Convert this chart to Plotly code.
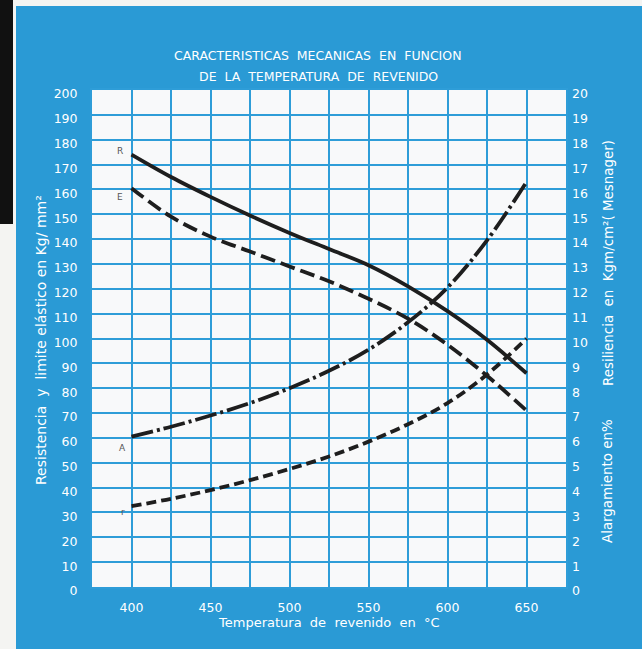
import plotly.graph_objects as go

# ---- data ----
temperatura = [400, 425, 450, 475, 500, 525, 550, 575, 600, 625, 650]
resistencia_R = [174, 165, 157, 149.5, 142.5, 136, 129.5, 121, 111, 99.5, 86]
limite_elastico_E = [160.5, 149, 141, 135, 129, 123, 116, 108, 97.5, 85, 71]
alargamiento_A = [6.05, 6.45, 6.9, 7.4, 8.0, 8.7, 9.55, 10.65, 12.05, 13.95, 16.3]
resiliencia = [3.25, 3.55, 3.9, 4.3, 4.75, 5.25, 5.85, 6.55, 7.4, 8.55, 10.0]

x_ticks = [400, 450, 500, 550, 600, 650]
y_left_ticks = list(range(0, 201, 10))
y_right_ticks = list(range(0, 21, 1))

titulo_1 = "CARACTERISTICAS  MECANICAS  EN  FUNCION"
titulo_2 = "DE  LA  TEMPERATURA  DE  REVENIDO"
eje_x = "Temperatura  de  revenido  en  °C"
eje_izq = "Resistencia  y  limite elástico en Kg/ mm²"
eje_der_1 = "Alargamiento en%"
eje_der_2 = "Resiliencia  en  Kgm/cm²( Mesnager)"

BLUE = "#2a9ad5"
GRID = "#2e9dd8"
INK = "#1e1e1e"
FONT = "DejaVu Sans, Open Sans, sans-serif"

fig = go.Figure()
fig.add_trace(go.Scatter(x=temperatura, y=resistencia_R, mode="lines",
                         line=dict(color=INK, width=3.8, shape="spline"),
                         hoverinfo="skip", showlegend=False))
fig.add_trace(go.Scatter(x=temperatura, y=limite_elastico_E, mode="lines",
                         line=dict(color=INK, width=3.8, dash="15px,6px", shape="spline"),
                         hoverinfo="skip", showlegend=False))
fig.add_trace(go.Scatter(x=temperatura, y=alargamiento_A, mode="lines", yaxis="y2",
                         line=dict(color=INK, width=3.8, dash="22px,4px,3px,4px", shape="spline"),
                         hoverinfo="skip", showlegend=False))
fig.add_trace(go.Scatter(x=temperatura, y=resiliencia, mode="lines", yaxis="y2",
                         line=dict(color=INK, width=3.8, dash="10px,5px", shape="spline"),
                         hoverinfo="skip", showlegend=False))

# curve labels
for lbl, xv, yv, yref in [("R", 396, 175.5, "y"), ("E", 396, 157, "y"),
                          ("A", 398, 5.6, "y2"), ("r", 397, 3.0, "y2")]:
    fig.add_annotation(x=xv, y=yv, xref="x", yref=yref, text=lbl, showarrow=False,
                       xanchor="right", yanchor="middle",
                       font=dict(size=9, color="#555555", family=FONT))

W, H = 642, 649
L, R, T, B = 92, 76, 90, 62
pw, ph = W - L - R, H - T - B

def px(xp):
    return (xp - L) / pw

def py(yp):
    return (H - B - yp) / ph

# page decorations: white margin on left/top, black strip
fig.add_shape(type="rect", xref="paper", yref="paper", x0=px(-2), x1=px(16), y0=py(H + 2), y1=py(-2),
              fillcolor="#f4f4f2", line_width=0, layer="below")
fig.add_shape(type="rect", xref="paper", yref="paper", x0=px(-2), x1=px(W + 2), y0=py(6), y1=py(-2),
              fillcolor="#f4f4f2", line_width=0, layer="below")
fig.add_shape(type="rect", xref="paper", yref="paper", x0=px(-2), x1=px(13), y0=py(224), y1=py(-2),
              fillcolor="#111111", line_width=0, layer="below")

def label(text, xp, ypix, size, angle=0):
    fig.add_annotation(xref="paper", yref="paper", x=px(xp), y=py(ypix), text=text,
                       showarrow=False, xanchor="center", yanchor="middle", textangle=angle,
                       font=dict(size=size, color="white", family=FONT))

label(titulo_1, 318, 55, 12.5)
label(titulo_2, 318, 77, 12.5)
label(eje_x, 329, 622, 13)
label(eje_izq, 41, 340, 14, -90)
label(eje_der_1, 608, 481, 13.4, -90)
label(eje_der_2, 608, 263, 13.4, -90)

tickfont = dict(size=12.5, color="white", family=FONT)
fig.update_layout(
    width=W, height=H,
    margin=dict(l=L, r=R, t=T, b=B, pad=0, autoexpand=False),
    paper_bgcolor=BLUE,
    plot_bgcolor="#f8f9fa",
    xaxis=dict(range=[375, 675], tickvals=x_ticks, ticktext=[str(v) for v in x_ticks],
               showgrid=True, gridcolor=GRID, gridwidth=2,
               minor=dict(dtick=25, tick0=375, showgrid=True, gridcolor=GRID, gridwidth=2),
               showline=True, linecolor=GRID, linewidth=2, mirror=True, automargin=False,
               zeroline=False, ticks="", tickfont=tickfont, ticklabelstandoff=8),
    yaxis=dict(range=[0, 200], tickvals=y_left_ticks, ticktext=[str(v) for v in y_left_ticks],
               showgrid=True, gridcolor=GRID, gridwidth=2,
               showline=True, linecolor=GRID, linewidth=2, mirror=True, automargin=False,
               zeroline=False, ticks="", tickfont=tickfont, ticklabelstandoff=10,
               ticklabelshift=4),
    yaxis2=dict(range=[0, 20], overlaying="y", side="right", automargin=False,
                tickvals=y_right_ticks, ticktext=[str(v) for v in y_right_ticks],
                showgrid=False, zeroline=False, ticks="", tickfont=tickfont,
                ticklabelstandoff=5, ticklabelshift=4),
)

fig.write_html("out.html", config={"displayModeBar": False},
               post_script="document.body.style.margin='0px';")
